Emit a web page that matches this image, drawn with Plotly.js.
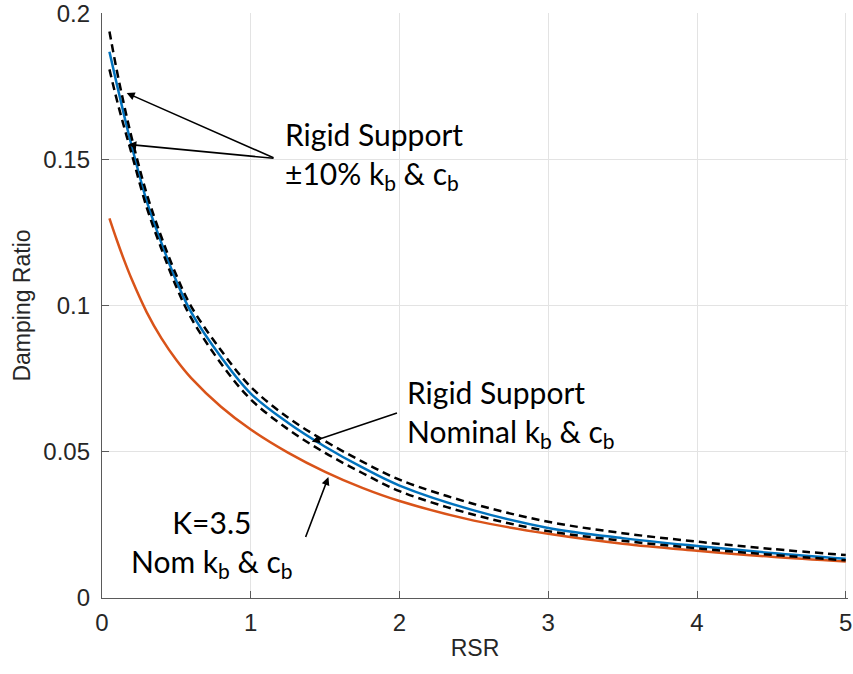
<!DOCTYPE html>
<html>
<head>
<meta charset="utf-8">
<script src="https://cdn.plot.ly/plotly-3.0.1.min.js"></script>
<style>html,body{margin:0;padding:0;background:#fff;}#chart{width:853px;height:674px;}</style>
</head>
<body>
<div id="chart"></div>
<script>
// RSR values (x)
const rsr = [0.05, 0.1, 0.15, 0.2, 0.3, 0.4, 0.5, 0.6, 0.8, 1.0, 1.25, 1.5, 1.75, 2.0, 2.5, 3.0, 3.5, 4.0, 4.5, 5.0];
// K=3.5, nominal kb & cb
const k35Nominal = [0.1300, 0.1225, 0.1155, 0.1091, 0.0979, 0.0889, 0.0815, 0.0753, 0.0655, 0.0577, 0.0498, 0.0432, 0.0377, 0.0332, 0.0265, 0.0220, 0.0186, 0.0162, 0.0141, 0.0125];
// Rigid support, nominal kb & cb
const rigidNominal = [0.187, 0.1758, 0.1650, 0.1547, 0.1360, 0.1215, 0.1085, 0.0978, 0.0825, 0.0700, 0.0600, 0.0518, 0.0447, 0.0385, 0.0300, 0.0240, 0.0205, 0.0178, 0.0154, 0.0134];
// Rigid support, +/-10% kb & cb (dashed)
const rigidVarA = [0.194, 0.1805, 0.1685, 0.1575, 0.1385, 0.1235, 0.1105, 0.0998, 0.0848, 0.0723, 0.0618, 0.0537, 0.0467, 0.0405, 0.0322, 0.0261, 0.0222, 0.0193, 0.0168, 0.0147];
const rigidVarB = [0.181, 0.1705, 0.1610, 0.1520, 0.1338, 0.1195, 0.1065, 0.0958, 0.0803, 0.0680, 0.0578, 0.0497, 0.0428, 0.0366, 0.0285, 0.0229, 0.0196, 0.0170, 0.0148, 0.0129];

const xTicks = [0, 1, 2, 3, 4, 5];
const xTickText = ['0', '1', '2', '3', '4', '5'];
const yTicks = [0, 0.05, 0.1, 0.15, 0.2];
const yTickText = ['0', '0.05', '0.1', '0.15', '0.2'];

const traces = [
  {x: rsr, y: k35Nominal, mode: 'lines', line: {color: '#D95319', width: 2.5, shape: 'spline'}, name: 'K=3.5'},
  {x: rsr, y: rigidNominal, mode: 'lines', line: {color: '#0072BD', width: 2.5, shape: 'spline'}, name: 'Rigid nominal'},
  {x: rsr, y: rigidVarA, mode: 'lines', line: {color: '#000000', width: 2.5, dash: '8px,5px', shape: 'spline'}, name: '+10%'},
  {x: rsr, y: rigidVarB, mode: 'lines', line: {color: '#000000', width: 2.5, dash: '8px,5px', shape: 'spline'}, name: '-10%'}
];

const annFont = {family: 'Lato, "Open Sans", sans-serif', size: 30, color: '#000'};
const arrow = (x, y, ax, ay) => ({x: x, y: y, ax: ax, ay: ay, xref: 'x', yref: 'y', axref: 'x', ayref: 'y',
  text: '', showarrow: true, arrowhead: 2, arrowsize: 1, arrowwidth: 1.6, arrowcolor: '#000'});

const layout = {
  width: 853, height: 674,
  margin: {l: 102, r: 5, t: 13, b: 76},
  paper_bgcolor: '#fff', plot_bgcolor: '#fff',
  showlegend: false,
  font: {family: '"Liberation Sans", Arial, sans-serif', color: '#262626'},
  xaxis: {
    range: [0, 5.015], tickvals: xTicks, ticktext: xTickText,
    showgrid: true, gridcolor: '#e3e3e3', gridwidth: 1,
    zeroline: false, showline: true, linecolor: '#5a5a5a', linewidth: 1.2,
    ticks: 'inside', ticklen: 7, tickcolor: '#5a5a5a',
    tickfont: {size: 24, color: '#262626'}, ticklabelstandoff: 3, ticklabeloverflow: 'allow',
    title: {text: 'RSR', font: {size: 23, color: '#262626'}, standoff: 4}
  },
  yaxis: {
    range: [0, 0.2003], tickvals: yTicks, ticktext: yTickText,
    showgrid: true, gridcolor: '#e3e3e3', gridwidth: 1,
    zeroline: false, showline: true, linecolor: '#5a5a5a', linewidth: 1.2,
    ticks: 'inside', ticklen: 7, tickcolor: '#5a5a5a',
    tickfont: {size: 24, color: '#262626'}, ticklabelstandoff: 6, ticklabeloverflow: 'allow',
    title: {text: 'Damping Ratio', font: {size: 23, color: '#262626'}, standoff: 6}
  },
  annotations: [
    {x: (282 - 102) / 743.5, y: (598 - 114) / 585, xref: 'paper', yref: 'paper', xanchor: 'left', yanchor: 'top', align: 'left',
     showarrow: false, font: annFont, text: 'Rigid Support<br>±10% k<sub>b</sub> & c<sub>b</sub>'},
    {x: (404 - 102) / 743.5, y: (598 - 372) / 585, xref: 'paper', yref: 'paper', xanchor: 'left', yanchor: 'top', align: 'left',
     showarrow: false, font: annFont, text: 'Rigid Support<br>Nominal k<sub>b</sub> & c<sub>b</sub>'},
    {x: (212 - 102) / 743.5, y: (598 - 502) / 585, xref: 'paper', yref: 'paper', xanchor: 'center', yanchor: 'top', align: 'center',
     showarrow: false, font: annFont, text: 'K=3.5<br>Nom k<sub>b</sub> & c<sub>b</sub>'},
    arrow(0.166, 0.1729, 1.163, 0.1505),
    arrow(0.177, 0.1553, 1.163, 0.1505),
    arrow(1.410, 0.0535, 1.993, 0.0635),
    arrow(1.522, 0.0414, 1.365, 0.0204)
  ]
};

Plotly.newPlot('chart', traces, layout, {staticPlot: true, displayModeBar: false});
</script>
</body>
</html>
